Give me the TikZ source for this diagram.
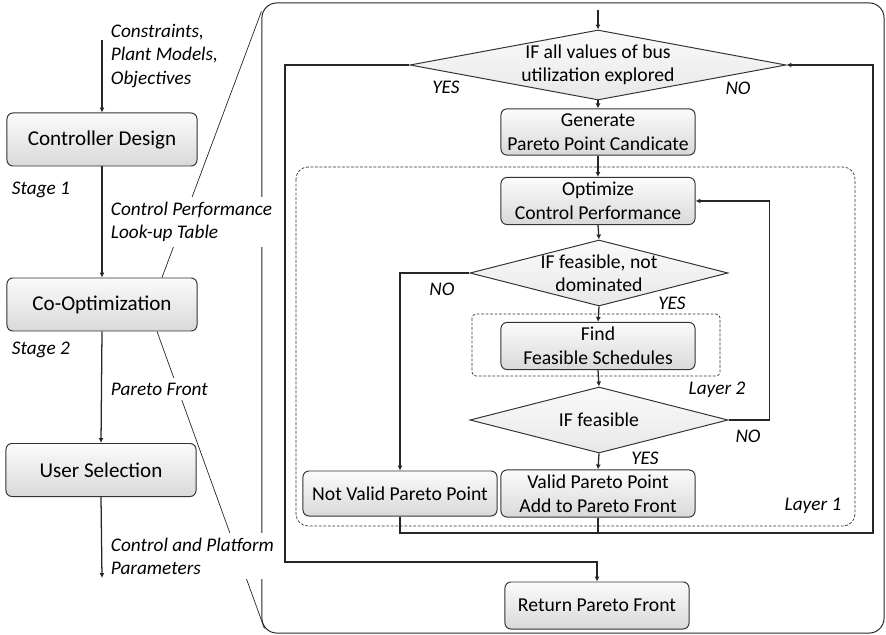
\documentclass[tikz,border=0pt]{standalone}
\usepackage{fontspec}
\setmainfont{Carlito}
\usetikzlibrary{shapes.geometric,arrows.meta}

\tikzset{
  stagebox/.style={draw=black!80, line width=0.7pt, rounded corners=0.15cm,
    top color=gray!3, bottom color=gray!30, minimum width=4.75cm, minimum height=1.325cm,
    font=\fontsize{15}{17}\selectfont},
  stepbox/.style={draw=black!80, line width=0.7pt, rounded corners=0.15cm,
    top color=gray!3, bottom color=gray!30, minimum width=4.85cm, minimum height=1.125cm,
    align=center, font=\fontsize{14}{17}\selectfont},
  dia/.style={diamond, draw=black!80, line width=0.7pt, top color=gray!4, bottom color=gray!18, inner sep=0pt},
  diatext/.style={align=center, font=\fontsize{14}{16.5}\selectfont},
  lbl/.style={align=left, font=\fontsize{13.7}{16.5}\selectfont\itshape},
  flow/.style={-{Latex[length=3.5pt,width=3.5pt]}, line width=0.9pt, black!85},
  zoomline/.style={line width=0.5pt, black!85},
  layer/.style={draw=black!80, line width=0.5pt, dash pattern=on 2pt off 1.2pt},
}

\begin{document}
\begin{tikzpicture}[x=0.025cm, y=-0.025cm]
\useasboundingbox (0,0) rectangle (886,635);

% design stages
\node[stagebox] (design) at (102,139.5) {Controller Design};
\node[stagebox] (coopt) at (102,304.5) {Co-Optimization};
\node[stagebox] (select) at (101,470) {User Selection};
\coordinate (in) at (102,40);
\coordinate (out) at (102,578);
\draw[flow] (in) -- (design.north);
\draw[flow] (design.south) -- (coopt.north);
\draw[flow] (coopt.south) -- (select.north);
\draw[flow] (select.south) -- (out);

% zoomed view of the co-optimization
\node[draw=black!85, line width=0.7pt, rounded corners=0.375cm, minimum width=15.55cm, minimum height=15.75cm] (view) at (573,318) {};
\draw[zoomline] ([xshift=1.5cm]coopt.north) -- ([yshift=-0.225cm]view.north west);
\draw[zoomline] ([xshift=1.375cm]coopt.south) -- ([xshift=0.075cm,yshift=0.125cm]view.south west);

\node[lbl, anchor=west] (inputs) at (106,56) {Constraints,\\Plant Models,\\Objectives};
\node[lbl, anchor=west] (stage1) at (7,190) {Stage 1};
\node[lbl, anchor=west, fill=white] (table) at (106,222) {Control Performance\\Look-up Table};
\node[lbl, anchor=west] (stage2) at (7,350) {Stage 2};
\node[lbl, anchor=west, fill=white] (front) at (106,389) {Pareto Front};
\node[lbl, anchor=west, fill=white] (params) at (106,556) {Control and Platform\\Parameters};

% layers
\draw[layer, rounded corners=0.3cm] (296,167) rectangle (855,526);
\draw[layer, rounded corners=0.1cm] (472,314) rectangle (720,376);

% flow
\coordinate (top) at (598,10);
\node[dia, minimum width=9.4cm, minimum height=1.75cm] (explored) at (598,65) {};
\node[diatext] (exploredtxt) at (explored) {IF all values of bus\\utilization explored};
\node[stepbox] (gen) at (598,132) {Generate\\Pareto Point Candicate};
\node[stepbox] (optim) at (598,201) {Optimize\\Control Performance};
\node[dia, minimum width=6.45cm, minimum height=1.65cm] (feas) at (599,273) {};
\node[diatext] (feastxt) at (feas) {IF feasible, not\\dominated};
\node[stepbox] (find) at (598,346) {Find\\Feasible Schedules};
\node[dia, minimum width=6.45cm, minimum height=1.65cm] (sched) at (599,420) {};
\node[diatext] (schedtxt) at (sched) {IF feasible};
\node[stepbox] (invalid) at (400,493.5) {Not Valid Pareto Point};
\node[stepbox] (valid) at (598,493.5) {Valid Pareto Point\\Add to Pareto Front};
\node[stepbox, minimum width=4.6cm, minimum height=1.175cm] (ret) at (597,605.5) {Return Pareto Front};
\coordinate (loopR) at (873,533);
\coordinate (loopL) at (285,562);

\draw[flow] (top) -- (explored.north);
\draw[flow] (explored.south) -- (gen.north);
\draw[flow] (gen.south) -- (optim.north);
\draw[flow] (optim.south) -- (feas.north);
\draw[flow] (feas.south) -- (find.north);
\draw[flow] (find.south) -- (sched.north);
\draw[flow] (sched.south) -- (valid.north);
\draw[flow] (feas.west) -| (invalid.north);
\draw[flow] (sched.east) -- ++(41,0) |- (optim.east);
\draw[flow] (invalid.south) |- (loopR) |- (explored.east);
\draw[line width=0.9pt, black!85] (valid.south) -- (valid.south |- loopR);
\draw[flow] (explored.west) -| (loopL) -| (ret.north);

\node[lbl] (yes1) at (446,87) {YES};
\node[lbl] (no1) at (738,88) {NO};
\node[lbl] (no2) at (442,289) {NO};
\node[lbl] (yes2) at (672,303) {YES};
\node[lbl] (layer2) at (717,390) {Layer 2};
\node[lbl] (no3) at (748,436) {NO};
\node[lbl] (yes3) at (645,458) {YES};
\node[lbl] (layer1) at (813,506) {Layer 1};
\end{tikzpicture}
\end{document}
